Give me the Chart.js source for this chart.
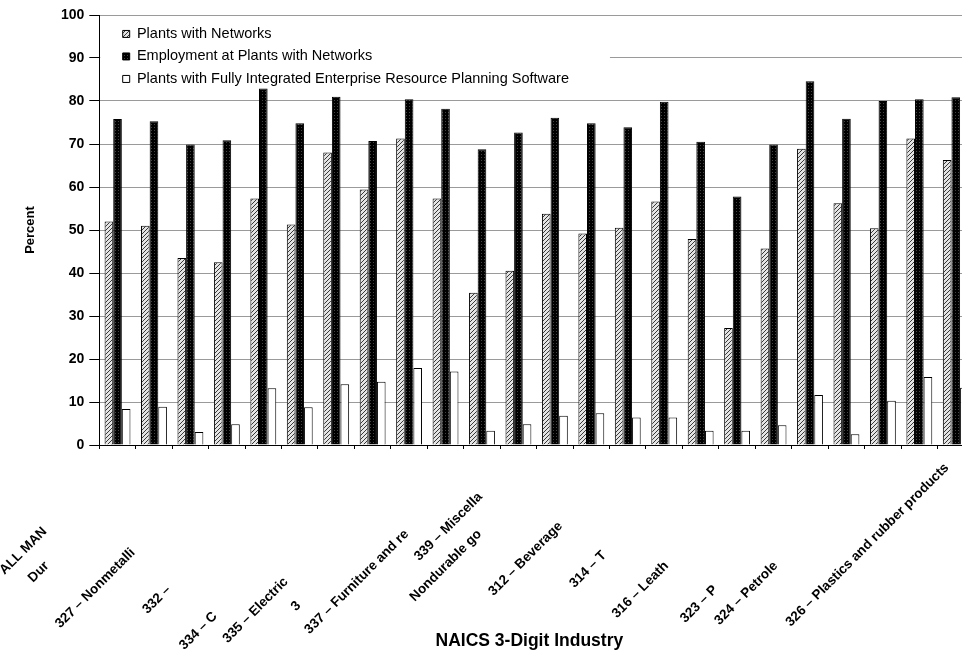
<!DOCTYPE html>
<html>
<head>
<meta charset="utf-8">
<title>Plants with networks by NAICS industry</title>
<script src="https://cdn.jsdelivr.net/npm/chart.js@4.4.1/dist/chart.umd.min.js"></script>
<style>
  html, body { margin: 0; padding: 0; background: #fff; overflow: hidden; }
  #wrap { width: 962px; height: 653px; overflow: hidden; }
</style>
</head>
<body>
<div id="wrap"><canvas id="naics-chart" width="980" height="653"></canvas></div>
<script>
// full industry names (used only to size the clipped tick labels)
var categories = [
    'ALL MANUFACTURING',
    'Durable goods industries',
    '321 – Wood products',
    '327 – Nonmetallic mineral products',
    '331 – Primary metals',
    '332 – Fabricated metal products',
    '333 – Machinery',
    '334 – Computer and electronic products',
    '335 – Electrical equipment, appliances',
    '336 – Transportation equipment',
    '337 – Furniture and related products',
    '339 – Miscellaneous',
    'Nondurable goods industries',
    '311 – Food',
    '312 – Beverage and tobacco',
    '313 – Textile mills',
    '314 – Textile product mills',
    '315 – Apparel',
    '316 – Leather and allied products',
    '322 – Paper',
    '323 – Printing and related support',
    '324 – Petroleum and coal products',
    '325 – Chemical',
    '326 – Plastics and rubber products'
];
// what is actually readable under each category
var shownLabels = [
    'ALL MAN', 'Dur', '', '327 – Nonmetalli', '', '332 –', '', '334 – C',
    '335 – Electric', '3', '337 – Furniture and re', '339 – Miscella',
    'Nondurable go', '', '312 – Beverage', '', '314 – T', '', '316 – Leath',
    '', '323 – P', '324 – Petrole', '', '326 – Plastics and rubber products'
];
var seriesNames = [
    'Plants with Networks',
    'Employment at Plants with Networks',
    'Plants with Fully Integrated Enterprise Resource Planning Software'
];
var plantsWithNetworks = [52.0, 51.0, 43.5, 42.5, 57.3, 51.3, 68.0, 59.4, 71.3, 57.3, 35.4, 40.5,
                          53.8, 49.2, 50.5, 56.6, 47.9, 27.2, 45.7, 68.9, 56.2, 50.4, 71.3, 66.3];
var employmentWithNetworks = [75.8, 75.3, 69.9, 70.9, 82.9, 74.8, 81.0, 70.7, 80.4, 78.2, 68.8, 72.7,
                              76.1, 74.8, 73.9, 79.8, 70.5, 57.8, 69.9, 84.6, 75.9, 80.0, 80.4, 80.9];
var plantsWithErp = [8.4, 8.9, 3.0, 4.8, 13.2, 8.8, 14.1, 14.7, 17.9, 17.1, 3.3, 4.8,
                     6.8, 7.4, 6.4, 6.4, 3.3, 3.3, 4.6, 11.6, 2.5, 10.3, 15.8, 13.3];

var FONT = '"Liberation Sans", Arial, sans-serif';
var tickFont = { family: FONT, size: 13.5, weight: 'bold' };

// pad the visible part with spaces so it sits where the full name would start
var measure = document.createElement('canvas').getContext('2d');
measure.font = 'bold ' + tickFont.size + 'px ' + FONT;
var spaceW = measure.measureText(' ').width;
var tickText = shownLabels.map(function(txt, i) {
    if (!txt) return '';
    var gap = measure.measureText(categories[i]).width - measure.measureText(txt).width;
    return txt + ' '.repeat(Math.max(0, Math.round(gap / spaceW)));
});

function makePattern(size, bg, fg, cells) {
    var c = document.createElement('canvas');
    c.width = c.height = size;
    var g = c.getContext('2d');
    g.fillStyle = bg;
    g.fillRect(0, 0, size, size);
    g.fillStyle = fg;
    cells.forEach(function(p) { g.fillRect(p[0], p[1], 1, 1); });
    return g.createPattern(c, 'repeat');
}
var hatched = makePattern(4, '#e4e4e4', '#383838', [[0, 3], [1, 2], [2, 1], [3, 0]]);
var dotted = makePattern(3, '#000', '#444', [[1, 1]]);

var legendBackdrop = {
    id: 'legendBackdrop',
    afterLayout: function(chart) {
        var a = chart.chartArea, lg = chart.legend;
        lg.left = a.left + 15.4;
        lg.top = a.top + 3.7;
        lg.bottom = a.bottom;
        lg.right = a.right;
    },
    beforeDatasetsDraw: function(chart) {
        var lg = chart.legend, ctx = chart.ctx, area = chart.chartArea;
        var lab = lg.options.labels;
        ctx.save();
        ctx.font = lab.font.size + 'px ' + FONT;
        var maxW = 0;
        seriesNames.forEach(function(s) { maxW = Math.max(maxW, ctx.measureText(s).width); });
        var right = lg.left + lab.padding + lab.boxWidth + lab.font.size / 2 + maxW + 41;
        var bottom = chart.scales.y.getPixelForValue(80) - 4;
        ctx.fillStyle = '#fff';
        ctx.fillRect(area.left + 1, area.top + 3, right - area.left - 1, bottom - area.top - 3);
        ctx.restore();
        lg.draw();
    }
};

var ctx = document.getElementById('naics-chart');
var chart = new Chart(ctx, {
    type: 'bar',
    data: {
        labels: categories,
        datasets: [
            {
                label: seriesNames[0],
                data: plantsWithNetworks,
                backgroundColor: hatched,
                borderColor: '#000',
                borderWidth: 1
            },
            {
                label: seriesNames[1],
                data: employmentWithNetworks,
                backgroundColor: dotted,
                borderColor: '#000',
                borderWidth: 1
            },
            {
                label: seriesNames[2],
                data: plantsWithErp,
                backgroundColor: '#fff',
                borderColor: '#000',
                borderWidth: 1
            }
        ]
    },
    options: {
        responsive: false,
        animation: false,
        events: [],
        categoryPercentage: 0.71,
        barPercentage: 1,
        layout: { padding: { top: 15, right: 6, bottom: 0, left: 0 } },
        plugins: {
            tooltip: { enabled: false },
            legend: {
                position: 'chartArea',
                align: 'start',
                labels: {
                    color: '#000',
                    font: { family: FONT, size: 14.5 },
                    boxWidth: 7,
                    boxHeight: 7,
                    padding: 8
                }
            }
        },
        scales: {
            x: {
                grid: {
                    display: true,
                    drawOnChartArea: false,
                    drawTicks: true,
                    tickLength: 4,
                    tickColor: '#000',
                    offset: true
                },
                border: { color: '#000', width: 1 },
                ticks: {
                    autoSkip: false,
                    minRotation: 45,
                    maxRotation: 45,
                    padding: 11,
                    labelOffset: -9,
                    color: '#000',
                    font: tickFont,
                    callback: function(v, i) { return tickText[i]; }
                },
                title: {
                    display: true,
                    text: 'NAICS 3-Digit Industry   ',
                    color: '#000',
                    font: { family: FONT, size: 17.5, weight: 'bold' },
                    padding: { top: 0, bottom: 1 }
                },
                afterFit: function(scale) {
                    scale.height = 208;
                    scale.paddingLeft = 0;
                    scale.paddingRight = 0;
                }
            },
            y: {
                min: 0,
                max: 100,
                ticks: {
                    stepSize: 10,
                    padding: 5,
                    color: '#000',
                    font: { family: FONT, size: 14, weight: 'bold' }
                },
                grid: {
                    color: '#9a9a9a',
                    tickColor: '#000',
                    tickLength: 10
                },
                border: { color: '#000', width: 1 },
                title: {
                    display: true,
                    text: 'Percent',
                    color: '#000',
                    font: { family: FONT, size: 13, weight: 'bold' },
                    padding: { top: 23, bottom: 0 }
                },
                afterFit: function(scale) {
                    scale.width = 99.3;
                    scale.paddingTop = 0;
                    scale.paddingBottom = 0;
                }
            }
        }
    },
    plugins: [legendBackdrop]
});
</script>
</body>
</html>
